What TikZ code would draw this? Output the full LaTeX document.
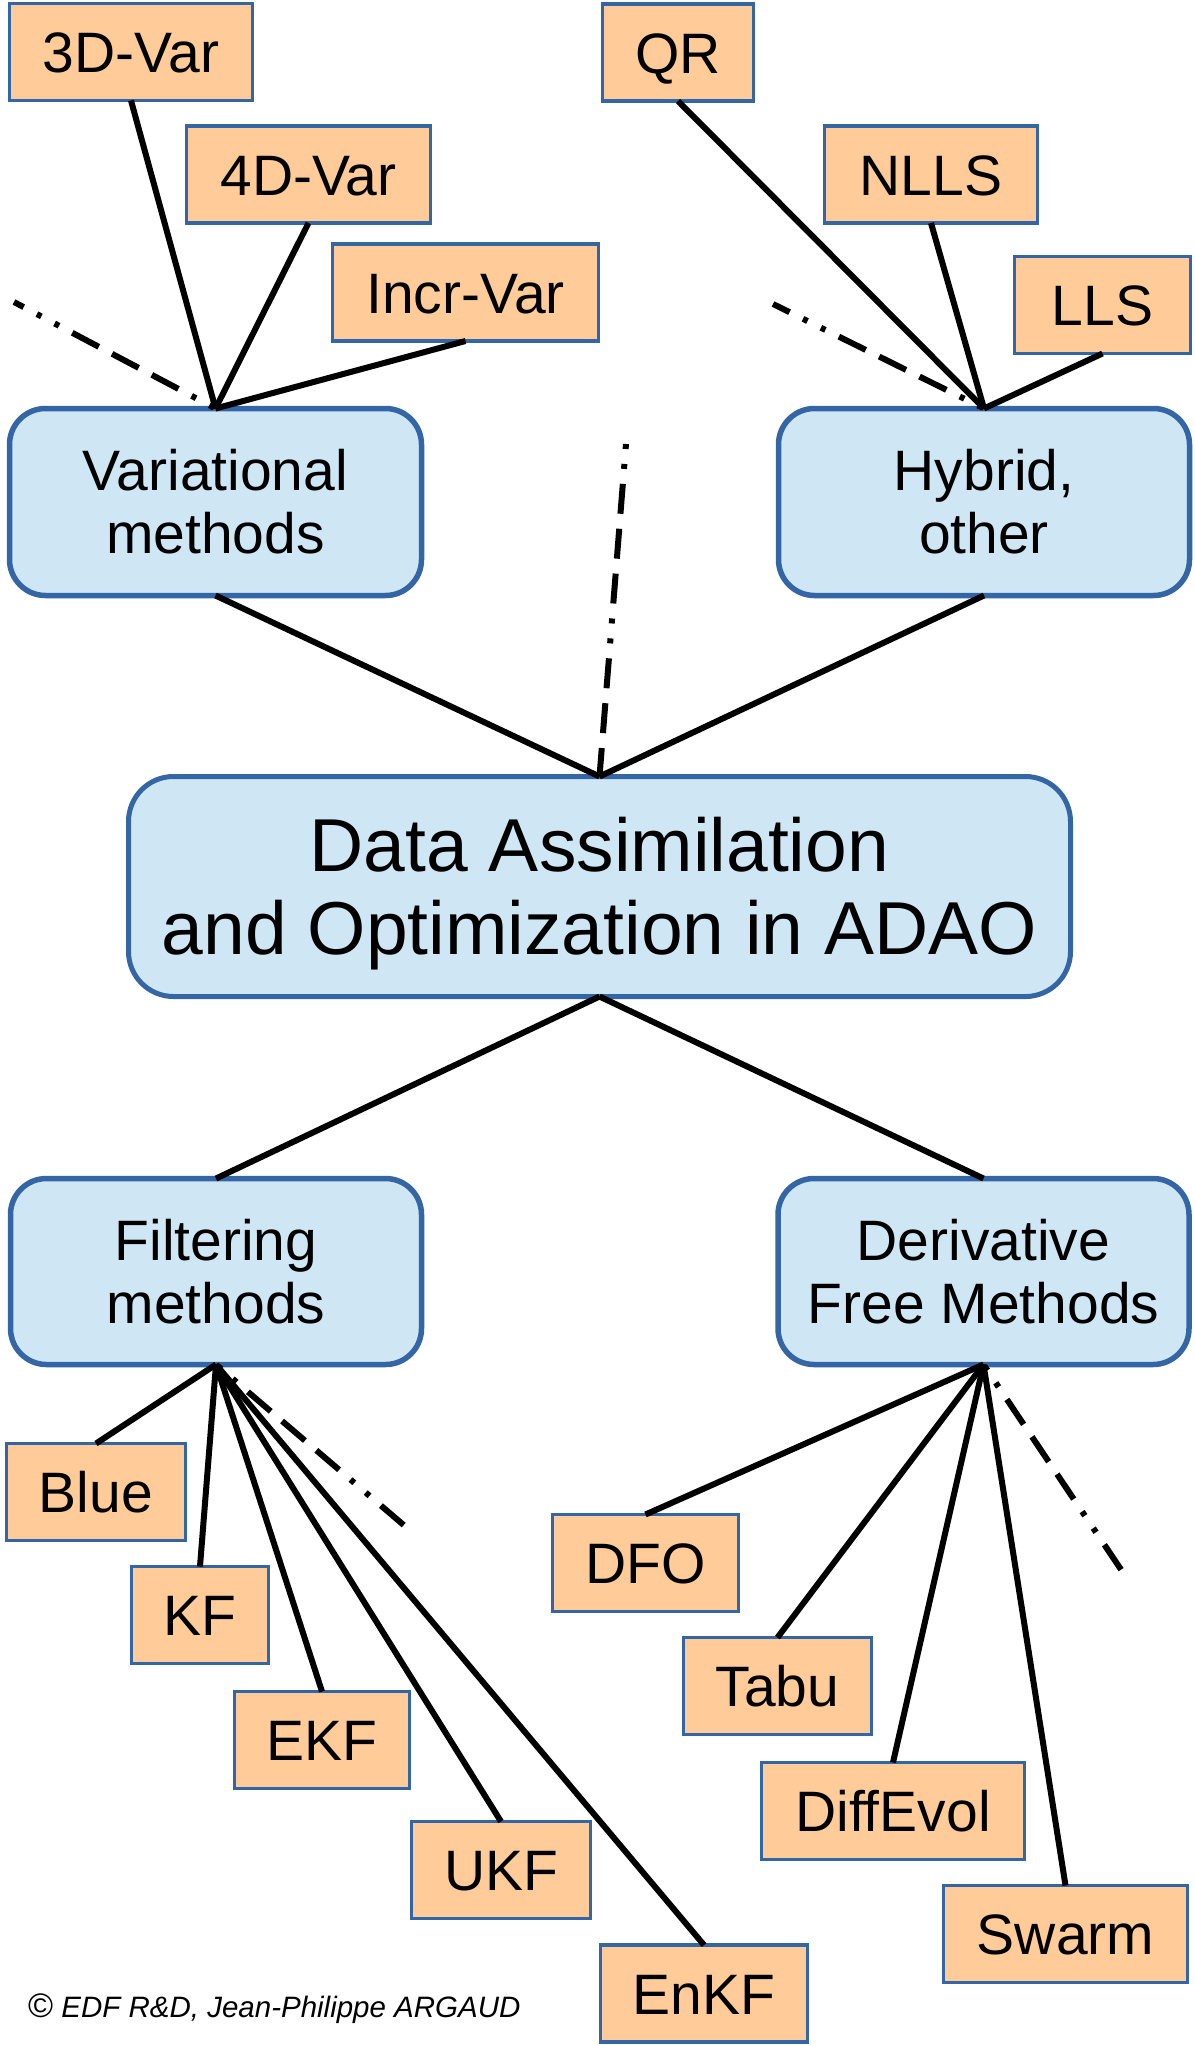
\documentclass[tikz,border=0pt]{standalone}
\usepackage{fontspec}
\setmainfont{Liberation Sans}
\definecolor{orangec}{HTML}{FFCC99}
\definecolor{bluec}{HTML}{CFE7F5}
\definecolor{bordc}{HTML}{3465A4}
\begin{document}
\begin{tikzpicture}[x=1pt,y=-1pt,
  leaf/.style={draw=bordc, line width=3.5pt, fill=orangec, inner sep=0pt, outer sep=0pt,
    minimum height=97pt, text height=41pt, text depth=0pt,
    font=\fontsize{57}{64}\selectfont},
  midbox/.style={draw=bordc, line width=5.5pt, fill=bluec, inner sep=0pt, outer sep=0pt,
    rounded corners=36pt, minimum width=411pt, minimum height=186pt, align=center,
    font=\fontsize{57}{63}\selectfont},
  bigbox/.style={draw=bordc, line width=5pt, fill=bluec, inner sep=0pt, outer sep=0pt,
    rounded corners=45pt, minimum width=942pt, minimum height=220pt, align=center,
    font=\fontsize{75}{83}\selectfont},
  conn/.style={line width=6pt},
  ddot/.style={line width=6pt, dash pattern=on 30pt off 15pt on 30pt off 15pt on 30pt off 15pt on 5pt off 15pt on 5pt off 15pt}
]
\useasboundingbox (0,0) rectangle (1194,2045);

% top left leaves
\node[leaf, minimum width=243pt] (d3) at (131,52) {3D-Var};
\node[leaf, minimum width=244pt] (d4) at (308.5,174.5) {4D-Var};
\node[leaf, minimum width=266pt] (incr) at (465.5,292.5) {Incr-Var};
% top right leaves
\node[leaf, minimum width=151pt] (qr) at (678,52.5) {QR};
\node[leaf, minimum width=213pt] (nlls) at (931,174.5) {NLLS};
\node[leaf, minimum width=176pt] (lls) at (1102.5,305) {LLS};

% middle boxes
\node[midbox, minimum width=412pt, minimum height=187pt] (var) at (215.5,502) {Variational\\methods};
\node[midbox, minimum height=187pt] (hyb) at (984,502) {Hybrid,\\other};
\node[bigbox] (ctr) at (599.5,886.5) {Data Assimilation\\and O\smash{p}timization in ADAO};
\node[midbox] (filt) at (216,1271.5) {Filtering\\methods};
\node[midbox] (dfm) at (983.5,1271.5) {Derivative\\Free Methods};

% bottom leaves
\node[leaf, minimum width=179pt] (blue) at (96,1492) {Blue};
\node[leaf, minimum width=137pt] (kf) at (200,1615) {KF};
\node[leaf, minimum width=175pt] (ekf) at (322,1740) {EKF};
\node[leaf, minimum width=179pt] (ukf) at (501,1870) {UKF};
\node[leaf, minimum width=207pt] (enkf) at (704,1993.5) {EnKF};
\node[leaf, minimum width=186pt] (dfo) at (645.5,1563) {DFO};
\node[leaf, minimum width=188pt] (tabu) at (777.5,1686) {Tabu};
\node[leaf, minimum width=263pt] (diff) at (893,1811) {DiffEvol};
\node[leaf, minimum width=244pt] (swarm) at (1065.5,1934) {Swarm};

% free ends of the dashed lines
\coordinate (vfree) at (14,302);
\coordinate (hfree) at (773,304);
\coordinate (cfree) at (626,444);
\coordinate (ffree) at (406,1527);
\coordinate (dfree) at (1124,1574);

% connectors
\draw[conn] (d3.south) -- (var.north);
\draw[conn] (d4.south) -- (var.north);
\draw[conn] (incr.south) -- (var.north);
\draw[conn] (qr.south) -- (hyb.north);
\draw[conn] (nlls.south) -- (hyb.north);
\draw[conn] (lls.south) -- (hyb.north);
\draw[conn] (var.south) -- (ctr.north);
\draw[conn] (hyb.south) -- (ctr.north);
\draw[conn] (ctr.south) -- (filt.north);
\draw[conn] (ctr.south) -- (dfm.north);
\draw[conn] (filt.south) -- (blue.north);
\draw[conn] (filt.south) -- (kf.north);
\draw[conn] (filt.south) -- (ekf.north);
\draw[conn] (filt.south) -- (ukf.north);
\draw[conn] (filt.south) -- (enkf.north);
\draw[conn] (dfm.south) -- (dfo.north);
\draw[conn] (dfm.south) -- (tabu.north);
\draw[conn] (dfm.south) -- (diff.north);
\draw[conn] (dfm.south) -- (swarm.north);

% dashed connectors
\draw[ddot, dash phase=133pt] (var.north) -- (vfree);
\draw[ddot, dash phase=133pt] (hyb.north) -- (hfree);
\draw[ddot, dash phase=135pt] (cfree) -- (ctr.north);
\draw[ddot, dash phase=133pt] (filt.south) -- (ffree);
\draw[ddot, dash phase=133pt] (dfm.south) -- (dfree);

% footer
\node[anchor=base west, inner sep=0pt, font=\fontsize{29.5}{32}\selectfont] (copy) at (28,2017)
  {{\fontsize{34}{36}\selectfont\textcopyright}\ \itshape EDF R\&D, Jean-Philippe ARGAUD};
\end{tikzpicture}
\end{document}
